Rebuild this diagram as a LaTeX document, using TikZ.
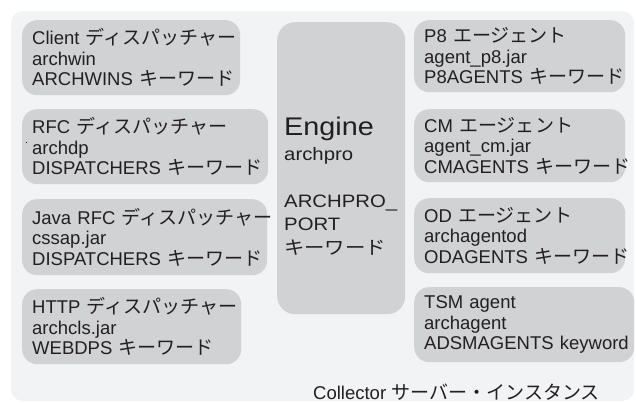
\documentclass[tikz,border=0pt]{standalone}
\usepackage{fontspec}
\setmainfont{Liberation Sans}
\newfontfamily\jp[Scale=1.03]{Noto Sans CJK JP}
\newfontfamily\engf[FakeStretch=1.13]{Liberation Sans}
\newfontfamily\jpw[Scale=1.03,FakeStretch=1.1]{Noto Sans CJK JP}
\definecolor{bgc}{HTML}{F2F3F5}
\definecolor{boxc}{HTML}{D1D2D4}
\definecolor{ink}{HTML}{231F20}
\hyphenpenalty=10000
\exhyphenpenalty=10000
\begin{document}
\begin{tikzpicture}[x=1pt,y=-1pt,
  box/.style={fill=boxc, rounded corners=15pt, anchor=north west, inner xsep=10pt, inner ysep=0pt,
    align=left, font=\fontsize{18.5}{20.5}\selectfont, text=ink},
  lbl/.style={inner sep=0pt, align=left, text=ink, font=\fontsize{18.5}{23.5}\selectfont}]
\useasboundingbox (0,0) rectangle (636,402);
\fill[bgc, rounded corners=12pt] (11,11) rectangle (634,401);
% left column
\node[box, minimum width=218, minimum height=75, text width=198] (cli) at (22,20)
  {Client~{\jp ディスパッチャー}\\archwin\\ARCHWINS~{\jp キーワード}};
\node[box, minimum width=246, minimum height=75, text width=226] (rfc) at (22,109)
  {RFC~{\jp ディスパッチャー}\\archdp\\DISPATCHERS~{\jp キーワード}};
\node[box, minimum width=245, minimum height=76, text width=225] (jrfc) at (22,199)
  {Java~RFC~{\jp ディスパッチャー}\\cssap.jar\\DISPATCHERS~{\jp キーワード}};
\node[box, minimum width=219, minimum height=75, text width=199] (http) at (22,289)
  {HTTP~{\jp ディスパッチャー}\\archcls.jar\\WEBDPS~{\jp キーワード}};
\fill[ink] (26.5,142.5) circle (0.6pt);
% engine
\node[box, minimum width=128, minimum height=292, rounded corners=18pt] (eng) at (277,22) {};
\node[lbl, anchor=base west, font=\engf\fontsize{25.5}{25.5}\selectfont] (engt) at (284,135) {Engine};
\node[lbl, anchor=north west, font=\engf\fontsize{18}{23.5}\selectfont] (engx) at (284,147)
  {archpro\\[23.5pt]ARCHPRO\_\\PORT\\{\jpw キーワード}};
% right column
\node[box, minimum width=211, minimum height=72, text width=191] (p8) at (414,20)
  {P8~{\jp エージェント}\\agent\_p8.jar\\P8AGENTS~{\jp キーワード}};
\node[box, minimum width=211, minimum height=73, text width=191] (cm) at (414,109)
  {CM~{\jp エージェント}\\agent\_cm.jar\\CMAGENTS~{\jp キーワード}};
\node[box, minimum width=211, minimum height=75, text width=191] (od) at (414,198)
  {OD~{\jp エージェント}\\archagentod\\ODAGENTS~{\jp キーワード}};
\node[box, minimum width=220, minimum height=75, text width=200] (tsm) at (414,287)
  {TSM~agent\\archagent\\\mbox{ADSMAGENTS~keyword}};
% caption
\node[lbl, anchor=base west] (cap) at (313,399) {Collector~{\jp サーバー・インスタンス}};
\end{tikzpicture}
\end{document}
